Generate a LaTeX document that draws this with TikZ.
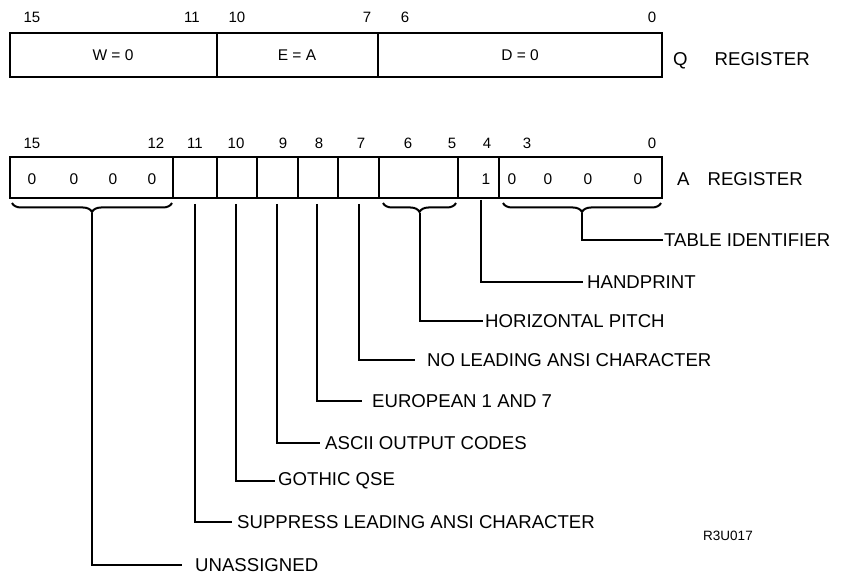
\documentclass[tikz,border=0pt]{standalone}
\usepackage{fontspec}
\setmainfont{Liberation Sans}
\usetikzlibrary{decorations.pathreplacing}
\begin{document}
\begin{tikzpicture}[x=1pt,y=-1pt,
  reg/.style={line width=2.4pt},
  conn/.style={line width=2pt},
  bitnum/.style={font=\fontsize{15}{17}\selectfont, inner sep=0pt},
  val/.style={font=\fontsize{15.5}{17}\selectfont, inner sep=0pt},
  lbl/.style={font=\fontsize{18.6}{20}\selectfont, anchor=west, inner sep=0pt},
  brc/.style={decorate, decoration={brace,mirror,amplitude=9pt}, line width=2pt}]

\useasboundingbox (0,0) rectangle (841,580);

% ---------- Q register ----------
\draw[reg] (10,33) rectangle (662,77);
\draw[reg] (217,33) -- (217,77);
\draw[reg] (378,33) -- (378,77);
\node[bitnum] (q15) at (32,17) {15};
\node[bitnum] (q11) at (192,17) {11};
\node[bitnum] (q10) at (237,17) {10};
\node[bitnum] (q7) at (367,17) {7};
\node[bitnum] (q6) at (405,17) {6};
\node[bitnum] (q0) at (652,17) {0};
\node[val] (qw) at (113,55) {W = 0};
\node[val] (qe) at (297,55) {E = A};
\node[val] (qd) at (520,55) {D = 0};
\node[lbl] (qreg) at (673,61) {Q\hspace{27pt}REGISTER};

% ---------- A register ----------
\draw[reg] (10,157) rectangle (662,198);
\foreach \xx in {173,217,257,298,338,379,458,499}
  \draw[reg] (\xx,157) -- (\xx,198);
\node[bitnum] (a15) at (32,143) {15};
\node[bitnum] (a12) at (156,143) {12};
\node[bitnum] (a11) at (195,143) {11};
\node[bitnum] (a10) at (236,143) {10};
\node[bitnum] (a9) at (283,143) {9};
\node[bitnum] (a8) at (319,143) {8};
\node[bitnum] (a7) at (361,143) {7};
\node[bitnum] (a6) at (408,143) {6};
\node[bitnum] (a5) at (452,143) {5};
\node[bitnum] (a4) at (487,143) {4};
\node[bitnum] (a3) at (527,143) {3};
\node[bitnum] (a0) at (652,143) {0};

\node[val] (v15) at (32,179) {0};
\node[val] (v14) at (74,179) {0};
\node[val] (v13) at (113,179) {0};
\node[val] (v12) at (152,179) {0};
\node[val] (v4) at (486,179) {1};
\node[val] (v3) at (512,179) {0};
\node[val] (v2) at (548,179) {0};
\node[val] (v1) at (588,179) {0};
\node[val] (v0) at (638,179) {0};
\node[lbl] (areg) at (677,179) {A\hspace{18pt}REGISTER};

% ---------- braces ----------
\draw[brc] (12,203) -- (172,203);
\draw[brc] (383,203) -- (456,203);
\draw[brc] (503,203) -- (661,203);

% ---------- connector start points ----------
\coordinate (t15) at (92,213);
\coordinate (b11) at (195,204);
\coordinate (b10) at (236,204);
\coordinate (b9) at (277,204);
\coordinate (b8) at (317,204);
\coordinate (b7) at (359,204);
\coordinate (t65) at (419.5,213);
\coordinate (b4) at (481,200);
\coordinate (t30) at (582,213);

% ---------- labels ----------
\node[lbl] (un) at (195,565) {UNASSIGNED};
\node[lbl] (sup) at (237,522) {SUPPRESS LEADING ANSI CHARACTER};
\node[lbl] (got) at (278,481) {GOTHIC QSE};
\node[lbl] (asc) at (325,443) {ASCII OUTPUT CODES};
\node[lbl] (eur) at (372,401) {EUROPEAN 1 AND 7};
\node[lbl] (nol) at (427,360) {NO LEADING ANSI CHARACTER};
\node[lbl] (hor) at (485,321) {HORIZONTAL PITCH};
\node[lbl] (han) at (587,282) {HANDPRINT};
\node[lbl] (tab) at (664,240) {TABLE IDENTIFIER};

% ---------- connectors ----------
\draw[conn, shorten >=13pt] (t15) |- (un.west);
\draw[conn, shorten >=5pt] (b11) |- (sup.west);
\draw[conn, shorten >=3pt] (b10) |- (got.west);
\draw[conn, shorten >=5pt] (b9) |- (asc.west);
\draw[conn, shorten >=10pt] (b8) |- (eur.west);
\draw[conn, shorten >=12pt] (b7) |- (nol.west);
\draw[conn, shorten >=2pt] (t65) |- (hor.west);
\draw[conn, shorten >=4pt] (b4) |- (han.west);
\draw[conn, shorten >=1pt] (t30) |- (tab.west);

\node[font=\fontsize{13.5}{15}\selectfont, inner sep=0pt] (ref) at (728,536) {R3U017};
\end{tikzpicture}
\end{document}
